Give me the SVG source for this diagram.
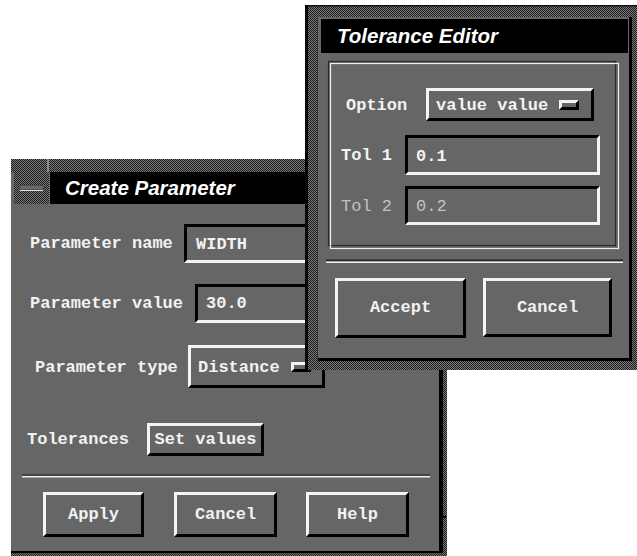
<svg xmlns="http://www.w3.org/2000/svg" width="637" height="556" viewBox="0 0 637 556">
<defs>
<pattern id="dith" width="2" height="2" patternUnits="userSpaceOnUse"><rect width="2" height="2" fill="#7a7a7a"/><rect width="1" height="1" fill="#1c1c1c"/><rect x="1" y="1" width="1" height="1" fill="#1c1c1c"/></pattern>
<style>
.lbl{font-family:"Liberation Mono","DejaVu Sans Mono",monospace;font-weight:bold;font-size:17px;fill:#f2f2f2}
.mid{text-anchor:middle}
.dim{fill:#c2c2c2;font-weight:normal}
.ttl{font-family:"Liberation Sans",Arial,sans-serif;font-weight:bold;font-style:italic;font-size:20.5px;fill:#fff}
.hi{fill:#f4f4f4}
.sh{fill:#000}
.body{fill:#666}
.dt{fill:url(#dith)}
</style>
</defs>
<rect width="637" height="556" fill="#fff"/>

<g id="create-parameter">
<rect class="dt" x="11" y="159" width="436" height="397"/>
<rect x="47" y="159" width="2" height="13" fill="#8c8c8c"/>
<rect class="body" x="11" y="172" width="428" height="379"/>
<rect class="sh" x="439" y="172" width="4" height="381"/>
<rect class="sh" x="11" y="551" width="432" height="2"/>
<rect class="sh" x="443" y="516" width="3" height="2"/>
<rect class="dt" x="14" y="172" width="35" height="32"/>
<rect x="19" y="185" width="25" height="5" rx="2" fill="#6a6a6a" stroke="#3a3a3a" stroke-width="1"/>
<path d="M20 190.5 H43" stroke="#ddd" stroke-width="1"/>
<rect class="sh" x="50" y="172" width="389" height="32"/>
<text class="ttl" x="65" y="195">Create Parameter</text>

<g id="param-name">
<text class="lbl" x="30" y="248">Parameter name</text>
<polygon class="sh" points="184,224 384,224 381,227 187,227 187,260 184,263"/>
<polygon class="hi" points="384,224 384,263 184,263 187,260 381,260 381,227"/>
<text class="lbl" x="196" y="249">WIDTH</text>
</g>
<g id="param-value">
<text class="lbl" x="30" y="308">Parameter value</text>
<polygon class="sh" points="195,284 395,284 392,287 198,287 198,320 195,323"/>
<polygon class="hi" points="395,284 395,323 195,323 198,320 392,320 392,287"/>
<text class="lbl" x="206" y="308">30.0</text>
</g>
<g id="param-type">
<text class="lbl" x="35" y="372">Parameter type</text>
<polygon class="hi" points="188,345 325,345 322,348 191,348 191,385 188,388"/>
<polygon class="sh" points="325,345 325,388 188,388 191,385 322,385 322,348"/>
<text class="lbl" x="198" y="372">Distance</text>
<polygon class="hi" points="291,362 311,362 308,365 294,365 294,369 291,372"/>
<polygon class="sh" points="311,362 311,372 291,372 294,369 308,369 308,365"/>
</g>
<g id="tolerances">
<text class="lbl" x="27" y="444">Tolerances</text>
<polygon class="hi" points="147,423 264,423 261,426 150,426 150,453 147,456"/>
<polygon class="sh" points="264,423 264,456 147,456 150,453 261,453 261,426"/>
<text class="lbl mid" x="205.5" y="444">Set values</text>
</g>
<rect x="22" y="474.5" width="408" height="1" fill="#222"/>
<rect x="22" y="476" width="408" height="1.5" fill="#eee"/>
<g id="btn-apply">
<polygon class="hi" points="43,492 144,492 141,495 46,495 46,534 43,537"/>
<polygon class="sh" points="144,492 144,537 43,537 46,534 141,534 141,495"/>
<text class="lbl mid" x="93.5" y="519">Apply</text>
</g>
<g id="btn-cancel">
<polygon class="hi" points="174,492 277,492 274,495 177,495 177,534 174,537"/>
<polygon class="sh" points="277,492 277,537 174,537 177,534 274,534 274,495"/>
<text class="lbl mid" x="225.5" y="519">Cancel</text>
</g>
<g id="btn-help">
<polygon class="hi" points="306,492 409,492 406,495 309,495 309,534 306,537"/>
<polygon class="sh" points="409,492 409,537 306,537 309,534 406,534 406,495"/>
<text class="lbl mid" x="357.5" y="519">Help</text>
</g>
</g>

<g id="tolerance-editor">
<rect class="dt" x="305" y="5" width="332" height="365"/>
<rect x="305" y="5" width="332" height="1.5" fill="#111"/>
<rect class="sh" x="305" y="5" width="3" height="365"/>
<rect x="317" y="17" width="1.5" height="344" fill="#333"/>
<rect class="body" x="318" y="17" width="311" height="341"/>
<rect class="sh" x="629" y="17" width="3" height="344"/>
<rect class="sh" x="318" y="358" width="314" height="3"/>
<rect class="sh" x="321" y="19" width="307" height="34"/>
<text class="ttl" x="337" y="43">Tolerance Editor</text>

<rect x="328.5" y="61.5" width="287" height="184" fill="none" stroke="#2a2a2a" stroke-width="1.2"/>
<rect x="330.5" y="63.5" width="288" height="185" fill="none" stroke="#eee" stroke-width="1.2"/>

<g id="option">
<text class="lbl" x="346" y="110">Option</text>
<polygon class="hi" points="426,88 594,88 591,91 429,91 429,118 426,121"/>
<polygon class="sh" points="594,88 594,121 426,121 429,118 591,118 591,91"/>
<text class="lbl" x="436" y="110">value value</text>
<polygon class="hi" points="559,100 579,100 576,103 562,103 562,107 559,110"/>
<polygon class="sh" points="579,100 579,110 559,110 562,107 576,107 576,103"/>
</g>
<g id="tol1">
<text class="lbl" x="341" y="160">Tol 1</text>
<polygon class="sh" points="405,135 600,135 597,138 408,138 408,172 405,175"/>
<polygon class="hi" points="600,135 600,175 405,175 408,172 597,172 597,138"/>
<text class="lbl" x="416" y="161">0.1</text>
</g>
<g id="tol2">
<text class="lbl dim" x="341" y="211">Tol 2</text>
<polygon class="sh" points="405,186 600,186 597,189 408,189 408,222 405,225"/>
<polygon class="hi" points="600,186 600,225 405,225 408,222 597,222 597,189"/>
<text class="lbl dim" x="416" y="211">0.2</text>
</g>
<rect x="326" y="259.5" width="297" height="1.5" fill="#222"/>
<rect x="326" y="261.5" width="297" height="1.5" fill="#eee"/>
<g id="btn-accept">
<polygon class="hi" points="335,278 466,278 463,281 338,281 338,335 335,338"/>
<polygon class="sh" points="466,278 466,338 335,338 338,335 463,335 463,281"/>
<text class="lbl mid" x="400.5" y="312">Accept</text>
</g>
<g id="btn-tcancel">
<polygon class="hi" points="483,278 612,278 609,281 486,281 486,334 483,337"/>
<polygon class="sh" points="612,278 612,337 483,337 486,334 609,334 609,281"/>
<text class="lbl mid" x="547.5" y="312">Cancel</text>
</g>
</g>
<g id="connectors"/>
</svg>
